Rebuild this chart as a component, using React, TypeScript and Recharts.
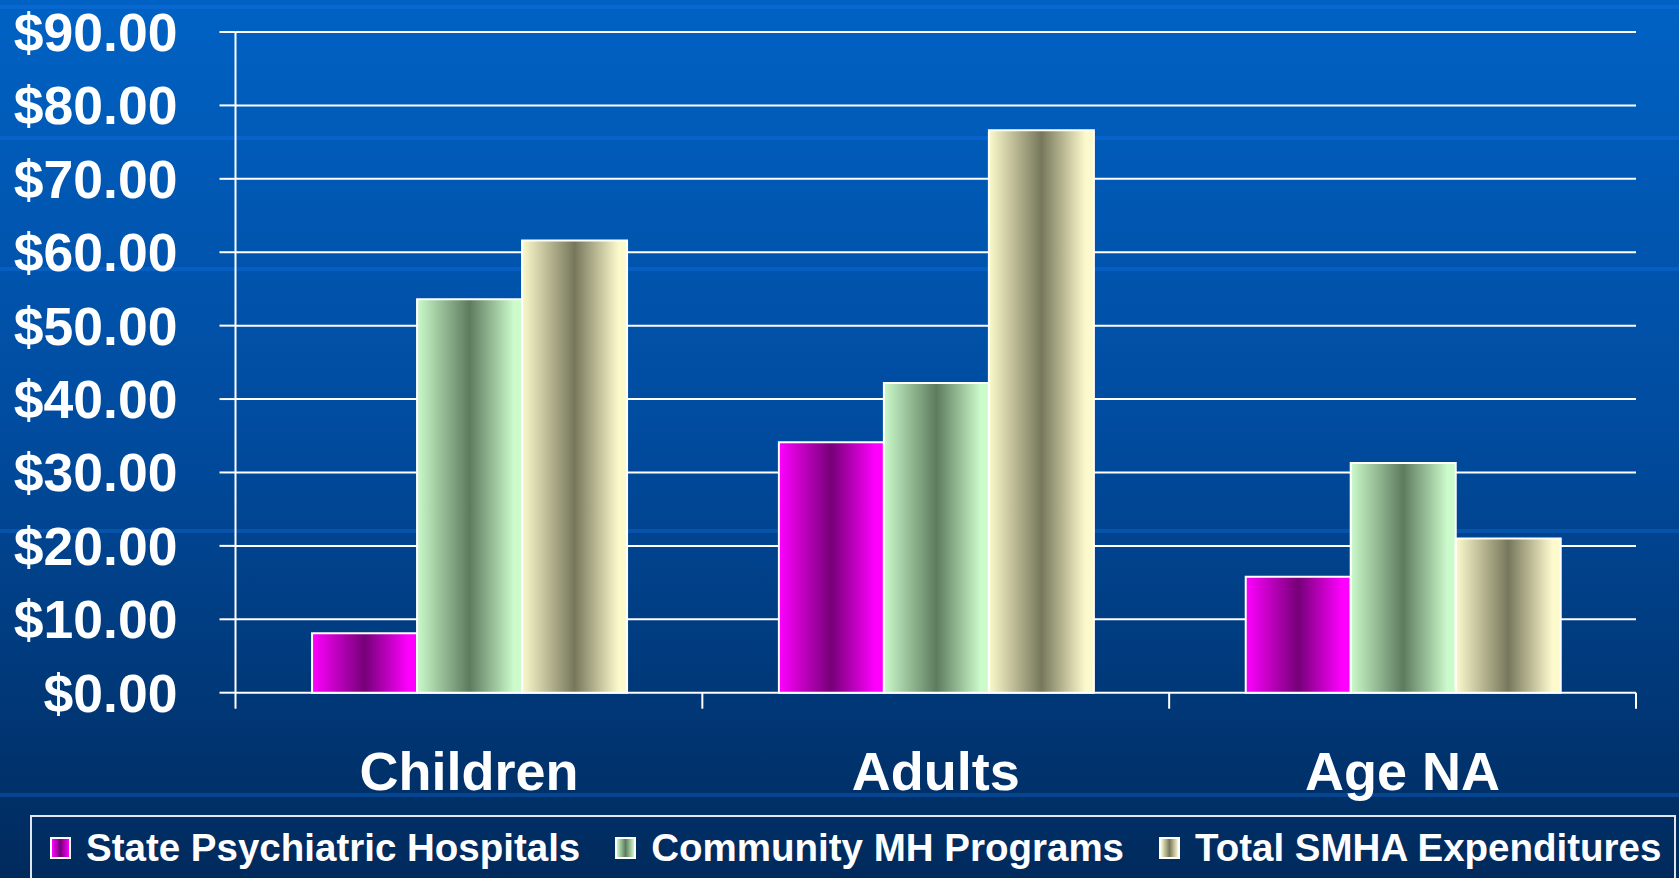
import { BarChart, Bar, XAxis, YAxis, CartesianGrid, Legend } from 'recharts';

const categories = ['Children', 'Adults', 'Age NA'];
const stateHospitals = [8.1, 34.1, 15.8];
const communityPrograms = [53.6, 42.2, 31.3];
const totalSmha = [61.6, 76.6, 21.0];
const yTicks = [0, 10, 20, 30, 40, 50, 60, 70, 80, 90];

const seriesInfo = [
  { key: 'state', name: 'State Psychiatric Hospitals', id: 'gMagenta', light: '#ff00ff', dark: '#760078' },
  { key: 'community', name: 'Community MH Programs', id: 'gGreen', light: '#cbfacb', dark: '#5d7b5d' },
  { key: 'total', name: 'Total SMHA Expenditures', id: 'gCream', light: '#fcfacc', dark: '#77775c' },
];

const data = categories.map((category, i) => ({
  category,
  state: stateHospitals[i],
  community: communityPrograms[i],
  total: totalSmha[i],
}));

const FONT = '"Liberation Sans", Arial, sans-serif';
const W = 1679;
const H = 878;
const Y_AXIS_W = 235.5;
const MARGIN_R = 43;
const BAND_W = (W - Y_AXIS_W - MARGIN_R) / categories.length;

const bands = [7, 138, 269, 531, 795];

// category label plus the Excel-style tick marks between categories
function CategoryTick(props: any) {
  const { x, y, payload, index } = props;
  const last = index === categories.length - 1;
  return (
    <g>
      <line x1={x - BAND_W / 2} x2={x - BAND_W / 2} y1={y} y2={y + 16} stroke="#fff" strokeWidth={2} />
      {last && <line x1={x + BAND_W / 2} x2={x + BAND_W / 2} y1={y} y2={y + 16} stroke="#fff" strokeWidth={2} />}
      <text x={x} y={y + 97} textAnchor="middle" fill="#fff" fontSize={54} fontWeight="bold" fontFamily={FONT}>
        {payload.value}
      </text>
    </g>
  );
}

function LegendBox() {
  return (
    <div
      style={{
        boxSizing: 'border-box',
        width: '100%',
        height: '100%',
        border: '2px solid #dfe6ee',
        padding: '12px 0 0 18px',
        display: 'flex',
        alignItems: 'flex-start',
        fontFamily: FONT,
      }}
    >
      {seriesInfo.map((s) => (
        <div key={s.key} style={{ display: 'flex', alignItems: 'center', marginRight: 35, height: 38 }}>
          <div
            style={{
              width: 17,
              height: 18,
              border: '2px solid #fff',
              background: `linear-gradient(to right, ${s.light} 0%, ${s.dark} 50%, ${s.light} 100%)`,
              marginRight: 15,
            }}
          />
          <span style={{ color: '#fff', fontSize: 38.5, fontWeight: 'bold', lineHeight: '38px', whiteSpace: 'nowrap' }}>
            {s.name}
          </span>
        </div>
      ))}
    </div>
  );
}

export default function App() {
  return (
    <div
      style={{
        position: 'fixed',
        left: 0,
        top: 0,
        width: W,
        height: H,
        overflow: 'hidden',
        background: 'linear-gradient(to bottom, #0062c4 0%, #004b9e 50%, #002a5c 100%)',
      }}
    >
      {bands.map((b) => (
        <div
          key={b}
          style={{ position: 'absolute', left: 0, top: b - 2, width: W, height: 4, background: 'rgba(20,120,240,0.3)' }}
        />
      ))}
      <BarChart
        width={W}
        height={H}
        data={data}
        margin={{ top: 32, right: MARGIN_R, bottom: 0, left: 0 }}
        barCategoryGap="16.4%"
        barGap={0}
        style={{ position: 'absolute', left: 0, top: 0 }}
      >
        <defs>
          {seriesInfo.map((s) => (
            <linearGradient key={s.id} id={s.id} x1="0" y1="0" x2="1" y2="0">
              <stop offset="0%" stopColor={s.light} />
              <stop offset="50%" stopColor={s.dark} />
              <stop offset="92%" stopColor={s.light} />
              <stop offset="100%" stopColor={s.light} />
            </linearGradient>
          ))}
        </defs>
        <CartesianGrid xAxisId="cat" yAxisId="left" vertical={false} stroke="#ffffff" strokeWidth={2} />
        <XAxis
          xAxisId="cat"
          dataKey="category"
          height={185.3}
          axisLine={false}
          tickLine={false}
          tickSize={0}
          tickMargin={0}
          tick={<CategoryTick />}
          interval={0}
        />
        <YAxis
          yAxisId="left"
          domain={[0, 90]}
          ticks={yTicks}
          width={Y_AXIS_W}
          tickSize={16}
          tickMargin={42}
          tickFormatter={(v: number) => '$' + v.toFixed(2)}
          axisLine={{ stroke: '#ffffff', strokeWidth: 2 }}
          tickLine={{ stroke: '#ffffff', strokeWidth: 2 }}
          tick={{ fill: '#ffffff', fontSize: 53.5, fontWeight: 'bold', fontFamily: FONT }}
          interval={0}
        />
        <YAxis
          yAxisId="right"
          orientation="right"
          domain={[0, 90]}
          width={0}
          tick={false}
          tickLine={false}
          axisLine={{ stroke: '#ffffff', strokeWidth: 2 }}
        />
        {seriesInfo.map((s) => (
          <Bar
            key={s.key}
            dataKey={s.key}
            name={s.name}
            xAxisId="cat"
            yAxisId="left"
            fill={`url(#${s.id})`}
            stroke="#ffffff"
            strokeWidth={2}
            isAnimationActive={false}
          />
        ))}
        <Legend
          verticalAlign="middle"
          align="center"
          layout="horizontal"
          content={<LegendBox />}
          wrapperStyle={{ left: 30, top: 815, width: 1646, height: 80 }}
        />
      </BarChart>
    </div>
  );
}
